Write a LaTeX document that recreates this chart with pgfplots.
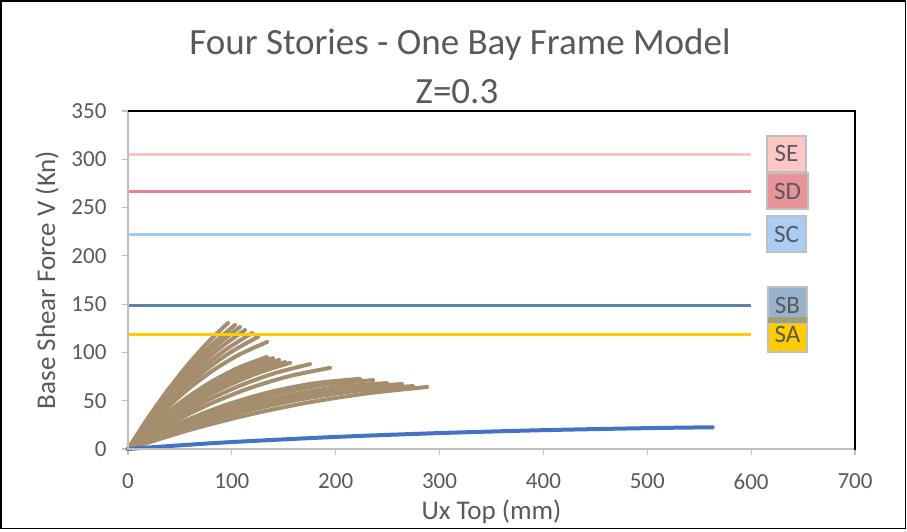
\documentclass[border=0pt]{standalone}
\usepackage{pgfplots}
\pgfplotsset{compat=1.18}
\usepackage{fontspec}
\setmainfont{Carlito}

\definecolor{txt}{HTML}{595959}
\definecolor{axgray}{HTML}{BFBFBF}
\definecolor{brn}{HTML}{A58E6E}
\definecolor{blu}{HTML}{4472C4}
\definecolor{lSE}{HTML}{FBC4C4}
\definecolor{lSD}{HTML}{E6848E}
\definecolor{lSC}{HTML}{A5CBF2}
\definecolor{lSB}{HTML}{5F83AC}
\definecolor{lSA}{HTML}{FFCC00}
\definecolor{bSE}{HTML}{FFC6C6}
\definecolor{bSD}{HTML}{E8939A}
\definecolor{bSC}{HTML}{A9CDF5}
\definecolor{bSB}{HTML}{99B2CC}
\definecolor{bSA}{HTML}{FFCC00}
\definecolor{olv}{HTML}{A0A070}

\begin{document}
\begin{tikzpicture}[x=1pt,y=1pt]
\useasboundingbox (0,0) rectangle (907,532);
\draw[black, line width=1.5pt] (1,3.5) rectangle (905.5,531);

\node[txt, font=\fontsize{37}{41}\selectfont] at (460,487) {Four Stories - One Bay Frame Model};
\node[txt, font=\fontsize{37}{41}\selectfont] at (457,440) {Z=0.3};

\begin{axis}[
  at={(128pt,83pt)}, anchor=south west,
  scale only axis, width=727pt, height=338pt,
  xmin=0, xmax=700, ymin=0, ymax=350,
  xtick={0,100,...,700}, ytick={0,50,...,350},
  axis line style={draw=none},
  tick pos=left, tick align=outside,
  major tick length=6pt,
  tick style={axgray, line width=1.2pt},
  ticklabel style={txt, font=\fontsize{23}{27}\selectfont},
  /pgf/number format/assume math mode=true,
  xticklabel style={yshift=-15pt},
  yticklabel style={xshift=-12pt},
  every axis x label/.style={at={(axis description cs:0.5,0)}, anchor=center, yshift=-63pt, txt, font=\fontsize{27}{31}\selectfont},
  every axis y label/.style={at={(axis description cs:0,0.5)}, anchor=center, rotate=90, yshift=81pt, txt, font=\fontsize{27}{31}\selectfont},
  xlabel={Ux Top (mm)},
  ylabel={Base Shear Force V (Kn)},
  clip=false,
  brown/.style={brn, line width=4pt, smooth, no marks, line cap=round},
]
% group 1
\addplot[brown] coordinates {(0,0) (19.26,32.2) (38.52,61.3) (57.78,87.4) (77.04,110.5) (96.3,130.5)};
\addplot[brown] coordinates {(0,0) (20.6,32.7) (41.2,61.8) (61.8,87.5) (82.4,109.7) (103,128.4)};
\addplot[brown] coordinates {(0,0) (21.56,32.5) (43.12,61.4) (64.68,86.6) (86.24,108.2) (107.8,126.3)};
\addplot[brown] coordinates {(0,0) (22.54,32.2) (45.08,60.6) (67.62,85.2) (90.16,106.0) (112.7,123.2)};
\addplot[brown] coordinates {(0,0) (23.88,31.9) (47.76,59.9) (71.64,83.9) (95.52,103.9) (119.4,120.0)};
\addplot[brown] coordinates {(0,0) (25.04,31.5) (50.08,58.8) (75.12,82.1) (100.16,101.1) (125.2,116.1)};
\addplot[brown] coordinates {(0,0) (26.76,31.3) (53.52,58.0) (80.28,80.2) (107.04,97.7) (133.8,110.8)};
% group 2
\addplot[brown] coordinates {(0,0) (26.76,27.4) (53.52,50.6) (80.28,69.6) (107.04,84.5) (133.8,95.3)};
\addplot[brown] coordinates {(0,0) (27.92,26.8) (55.84,49.6) (83.76,68.4) (111.68,83.2) (139.6,94.1)};
\addplot[brown] coordinates {(0,0) (29.08,26.3) (58.16,48.6) (87.24,67.0) (116.32,81.5) (145.4,92.2)};
\addplot[brown] coordinates {(0,0) (30.24,25.6) (60.48,47.4) (90.72,65.5) (120.96,79.7) (151.2,90.0)};
\addplot[brown] coordinates {(0,0) (31.2,25.0) (62.4,46.5) (93.6,64.3) (124.8,78.5) (156,89.2)};
\addplot[brown] coordinates {(0,0) (35.04,25.4) (70.08,46.9) (105.12,64.4) (140.16,78.1) (175.2,87.9)};
\addplot[brown] coordinates {(0,0) (38.9,25.1) (77.8,46.1) (116.7,62.9) (155.6,75.5) (194.5,84.0)};
% group 3
\addplot[brown] coordinates {(0,0) (44.68,24.3) (89.36,43.8) (134.04,58.3) (178.72,67.9) (223.4,72.6)};
\addplot[brown] coordinates {(0,0) (47.2,23.6) (94.4,42.6) (141.6,56.8) (188.8,66.4) (236,71.3)};
\addplot[brown] coordinates {(0,0) (49.88,22.7) (99.76,40.9) (149.64,54.5) (199.52,63.7) (249.4,68.3)};
\addplot[brown] coordinates {(0,0) (52.76,22.1) (105.52,39.9) (158.28,53.4) (211.04,62.5) (263.8,67.3)};
\addplot[brown] coordinates {(0,0) (54.88,21.0) (109.76,38.1) (164.64,51.1) (219.52,60.2) (274.4,65.2)};
\addplot[brown] coordinates {(0,0) (57.6,19.2) (115.2,35.2) (172.8,48.0) (230.4,57.6) (288,64.2)};
% single curve
\addplot[blu, line width=4pt, smooth, no marks, line cap=round] coordinates {(0,0) (50,3.8) (100,7.2) (200,12.5) (300,16.5) (400,19.5) (500,21.6) (563,22.5)};
% spectrum levels
\addplot[lSE, line width=3pt, no marks] coordinates {(0,305) (600,305)};
\addplot[lSD, line width=3pt, no marks] coordinates {(0,267) (600,267)};
\addplot[lSC, line width=3pt, no marks] coordinates {(0,222.5) (600,222.5)};
\addplot[lSB, line width=3pt, no marks] coordinates {(0,149) (600,149)};
\addplot[lSA, line width=3pt, no marks] coordinates {(0,119) (600,119)};

\tikzset{lbl/.style={draw=axgray, line width=2pt, minimum width=39pt, minimum height=36pt, inner sep=0pt, text=txt, font=\fontsize{25}{29}\selectfont}}
\node[lbl, fill=bSE] at (axis cs:634,305.5) {SE};
\node[lbl, fill=bSD, minimum width=41pt] at (axis cs:635,267) {SD};
\node[lbl, fill=bSC] at (axis cs:634,222.5) {SC};
\node[lbl, fill=bSA] at (axis cs:635,119) {SA};
\node[lbl, fill=bSB] at (axis cs:635,149) {SB};
\fill[olv] (axis cs:616,130.5) rectangle (axis cs:654,136.5);
\end{axis}
\draw[axgray, line width=1.5pt] (128,421.75) -- (128,83) -- (855,83);
\draw[black, line width=1.5pt] (128,421) -- (855,421) -- (855,82.25);
\end{tikzpicture}
\end{document}
